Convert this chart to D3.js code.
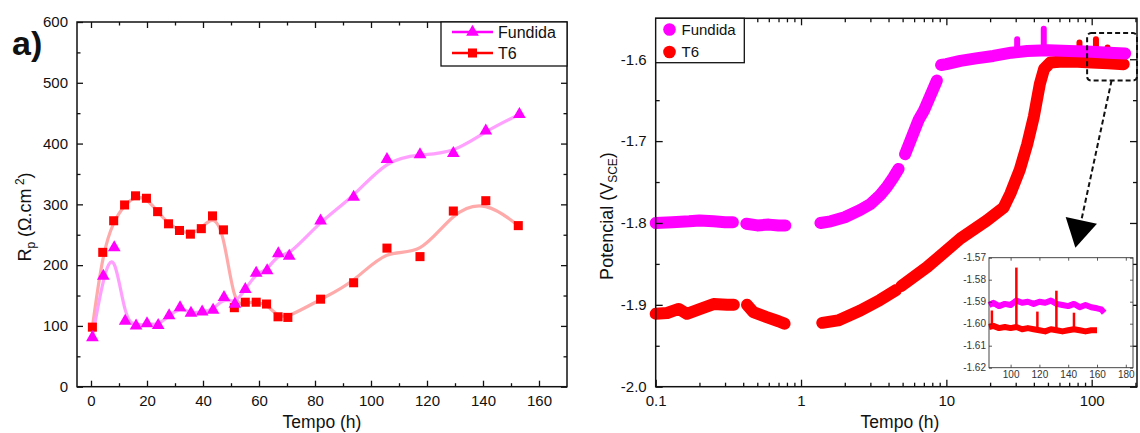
<!DOCTYPE html>
<html>
<head>
<meta charset="utf-8">
<script src="https://cdn.jsdelivr.net/npm/d3@7"></script>
<style>
  body { margin: 0; background: #fff; }
  svg { display: block; font-family: 'Liberation Sans', Arial, sans-serif; }
</style>
</head>
<body>
<div id="chart-container"></div>
<script>
// --- panel a): Rp vs tempo ---
const seriesNames = ['Fundida', 'T6'];
const seriesColors = ['#ff00ff', '#ff0000'];
const curveColors = ['#ffa0ff', '#ffaaaa'];

const rpTimeFundida = [0.5, 4.4, 8.3, 12.2, 16.1, 20, 24, 27.9, 31.8, 35.7, 39.7, 43.6, 47.5, 51.4, 55.1, 59, 62.9, 66.9, 70.8, 82, 93.8, 105.7, 117.5, 129.4, 141, 153];
const rpFundida = [81, 182, 229, 108, 100, 104, 101, 117, 130, 121, 123, 126, 147, 136, 160, 187, 191, 219, 215, 273, 312, 374, 382, 384, 421, 448];
const rpTimeT6 = [0.5, 4.2, 8.1, 12, 15.9, 19.8, 23.8, 27.7, 31.6, 35.5, 39.4, 43.4, 47.3, 51.2, 55.1, 59, 62.7, 66.8, 70.3, 82, 93.8, 105.7, 117.5, 129.4, 141, 152.6];
const rpT6 = [98, 221, 273, 299, 314, 310, 288, 268, 257, 251, 260, 281, 258, 130, 139, 139, 136, 115, 114, 144, 171, 228, 214, 289, 306, 265];

const rpXTicks = [0, 20, 40, 60, 80, 100, 120, 140, 160];
const rpXMinor = [10, 30, 50, 70, 90, 110, 130, 150];
const rpYTicks = [0, 100, 200, 300, 400, 500, 600];
const rpYMinor = [50, 150, 250, 350, 450, 550];

// --- right panel: potencial vs tempo (null = gap in the record) ---
const ocpTimeFundida = [0.1, 0.13, 0.17, 0.2, 0.25, 0.3, 0.34, null, 0.42, 0.5, 0.6, 0.7, 0.78, null, 1.36, 1.6, 2.0, 2.56, 3.0, 3.5, 3.9, 4.3, 4.69, null, 5.2, 6.45, 7.0, 8.6, null, 9.2, 10, 12.5, 16, 21, 28, 36, 50, 70, 100, 130, 170];
const ocpFundida = [-1.800, -1.799, -1.798, -1.797, -1.798, -1.799, -1.799, null, -1.801, -1.803, -1.802, -1.803, -1.803, null, -1.800, -1.798, -1.793, -1.784, -1.777, -1.766, -1.756, -1.745, -1.734, null, -1.716, -1.674, -1.663, -1.626, null, -1.607, -1.606, -1.602, -1.599, -1.596, -1.592, -1.590, -1.589, -1.590, -1.591, -1.592, -1.593];
const ocpTimeT6 = [0.1, 0.12, 0.144, 0.164, 0.203, 0.25, 0.31, 0.345, null, 0.425, 0.47, 0.58, 0.7, 0.77, null, 1.4, 1.8, 2.56, 3.5, 4.5, null, 4.9, 7.36, 12.5, 19, 24.8, 27.6, 32, 36, 40, 44, 47, 52, 60, 80, 100, 130, 166];
const ocpT6 = [-1.911, -1.910, -1.905, -1.911, -1.905, -1.899, -1.900, -1.900, null, -1.900, -1.909, -1.915, -1.920, -1.923, null, -1.922, -1.919, -1.907, -1.894, -1.882, null, -1.877, -1.854, -1.819, -1.797, -1.781, -1.764, -1.735, -1.704, -1.670, -1.630, -1.612, -1.604, -1.603, -1.603, -1.604, -1.605, -1.606];

const spikeTimeFundida = [30.7, 46.8];
const spikeTopFundida = [-1.572, -1.559];
const spikeBaseFundida = [-1.592, -1.589];
const spikeTimeT6 = [82.4, 107, 128.6];
const spikeTopT6 = [-1.576, -1.572, -1.582];
const spikeBaseT6 = [-1.603, -1.604, -1.605];

const ocpXTicks = [0.1, 1, 10, 100];
const ocpXMinor = [0.2, 0.3, 0.4, 0.5, 0.6, 0.7, 0.8, 0.9, 2, 3, 4, 5, 6, 7, 8, 9, 20, 30, 40, 50, 60, 70, 80, 90, 200];
const ocpYTicks = [-2.0, -1.9, -1.8, -1.7, -1.6];
const ocpYMinor = [-1.95, -1.85, -1.75, -1.65];

// --- inset (zoom of the last part) ---
const insetTimeFundida = [85, 88, 92, 96, 100, 104, 108, 112, 116, 120, 124, 128, 132, 136, 140, 144, 148, 152, 156, 160, 163, 165];
const insetFundida = [-1.5915, -1.5905, -1.5920, -1.5910, -1.5915, -1.5895, -1.5905, -1.5900, -1.5910, -1.5900, -1.5905, -1.5895, -1.5910, -1.5915, -1.5920, -1.5910, -1.5925, -1.5915, -1.5925, -1.5930, -1.5935, -1.5950];
const insetTimeT6 = [85, 88, 92, 96, 100, 104, 108, 112, 116, 120, 124, 128, 132, 136, 140, 144, 148, 152, 156, 160];
const insetT6 = [-1.6015, -1.6010, -1.6020, -1.6015, -1.6020, -1.6015, -1.6025, -1.6020, -1.6025, -1.6030, -1.6035, -1.6025, -1.6030, -1.6035, -1.6030, -1.6025, -1.6030, -1.6035, -1.6030, -1.6030];
const insetSpikeTime = [87, 104, 118.6, 131.8, 144];
const insetSpikeTop = [-1.594, -1.5745, -1.5945, -1.585, -1.595];
const insetXTicks = [100, 120, 140, 160, 180];
const insetYTicks = [-1.62, -1.61, -1.60, -1.59, -1.58, -1.57];

// region marked by the dashed box: [t0, t1, v0, v1]
const zoomRegion = [93, 205, -1.626, -1.568];

const width = 1140;
const height = 433;

const svg = d3.select('#chart-container')
  .append('svg')
  .attr('width', width)
  .attr('height', height);

function drawFrame(g, x, y, o) {
  const [xl, xr] = x.range();
  const [yb, yt] = y.range();

  g.append('g').attr('transform', `translate(0,${yb})`)
    .call(d3.axisBottom(x).tickValues(o.xTicks).tickSize(-o.major).tickPadding(o.pad).tickFormat(o.xFmt));
  g.append('g').attr('transform', `translate(${xl},0)`)
    .call(d3.axisLeft(y).tickValues(o.yTicks).tickSize(-o.major).tickPadding(o.pad).tickFormat(o.yFmt));
  g.append('g').attr('transform', `translate(0,${yt})`)
    .call(d3.axisTop(x).tickValues(o.xTicks).tickSize(-o.major).tickFormat(''));
  g.append('g').attr('transform', `translate(${xr},0)`)
    .call(d3.axisRight(y).tickValues(o.yTicks).tickSize(-o.major).tickFormat(''));

  if (o.xMinor) {
    g.append('g').attr('transform', `translate(0,${yb})`)
      .call(d3.axisBottom(x).tickValues(o.xMinor).tickSize(-o.minor).tickFormat(''));
    g.append('g').attr('transform', `translate(0,${yt})`)
      .call(d3.axisTop(x).tickValues(o.xMinor).tickSize(-o.minor).tickFormat(''));
  }
  if (o.yMinor) {
    g.append('g').attr('transform', `translate(${xl},0)`)
      .call(d3.axisLeft(y).tickValues(o.yMinor).tickSize(-o.minor).tickFormat(''));
    g.append('g').attr('transform', `translate(${xr},0)`)
      .call(d3.axisRight(y).tickValues(o.yMinor).tickSize(-o.minor).tickFormat(''));
  }

  g.selectAll('.domain').remove();
  g.selectAll('.tick line').attr('stroke', o.color).attr('stroke-width', o.tickWidth);
  g.selectAll('.tick text')
    .attr('fill', o.color)
    .style('font-size', o.fontSize + 'px')
    .style('font-family', "'Liberation Sans', Arial, sans-serif");

  g.append('rect')
    .attr('x', xl)
    .attr('y', yt)
    .attr('width', xr - xl)
    .attr('height', yb - yt)
    .attr('fill', 'none')
    .attr('stroke', o.color)
    .attr('stroke-width', o.frameWidth);
}

// ================= left panel =================
const xRp = d3.scaleLinear().domain([-5, 170]).range([77, 567]);
const yRp = d3.scaleLinear().domain([0, 600]).range([386.7, 22]);

const left = svg.append('g');

const rpSeries = [
  { name: seriesNames[0], pts: d3.zip(rpTimeFundida, rpFundida), symbol: d3.symbolTriangle, size: 70 },
  { name: seriesNames[1], pts: d3.zip(rpTimeT6, rpT6), symbol: d3.symbolSquare, size: 82 },
];

const rpLine = d3.line()
  .curve(d3.curveBasis)
  .x((d) => xRp(d[0]))
  .y((d) => yRp(d[1]));

// curves first, markers on top; Fundida drawn last
[1, 0].forEach((i) => {
  left.append('path')
    .attr('d', rpLine(rpSeries[i].pts))
    .attr('fill', 'none')
    .attr('stroke', curveColors[i])
    .attr('stroke-width', 3.2);
});
[1, 0].forEach((i) => {
  const s = rpSeries[i];
  left.selectAll(null)
    .data(s.pts)
    .enter()
    .append('path')
    .attr('d', d3.symbol().type(s.symbol).size(s.size))
    .attr('transform', (d) => `translate(${xRp(d[0])},${yRp(d[1])})`)
    .attr('fill', seriesColors[i]);
});

drawFrame(left, xRp, yRp, {
  xTicks: rpXTicks, xMinor: rpXMinor, yTicks: rpYTicks, yMinor: rpYMinor,
  xFmt: (d) => d, yFmt: (d) => d,
  major: 6, minor: 3.5, pad: 9, color: '#111', tickWidth: 1.3, frameWidth: 1.5, fontSize: 15,
});

// legend a)
const legA = left.append('g');
legA.append('rect')
  .attr('x', 441).attr('y', 22).attr('width', 126).attr('height', 44)
  .attr('fill', '#fff').attr('stroke', '#111').attr('stroke-width', 1.3);
rpSeries.forEach((s, i) => {
  const ly = 32 + i * 21;
  legA.append('line')
    .attr('x1', 452).attr('x2', 493).attr('y1', ly).attr('y2', ly)
    .attr('stroke', seriesColors[i]).attr('stroke-width', 2.5);
  legA.append('path')
    .attr('d', d3.symbol().type(s.symbol).size(s.size))
    .attr('transform', `translate(472.5,${ly})`)
    .attr('fill', seriesColors[i]);
  legA.append('text')
    .attr('x', 498).attr('y', ly).attr('dy', '0.36em')
    .style('font-size', '16px')
    .attr('fill', '#111')
    .text(s.name);
});

left.append('text')
  .attr('x', 12).attr('y', 55)
  .style('font-size', '34px').style('font-weight', 'bold')
  .attr('fill', '#111')
  .text('a)');

const rpTitle = left.append('text')
  .attr('transform', 'translate(31,217) rotate(-90)')
  .attr('text-anchor', 'middle')
  .style('font-size', '18px')
  .attr('fill', '#111');
rpTitle.append('tspan').text('R');
rpTitle.append('tspan').attr('dy', 4).style('font-size', '12px').text('p');
rpTitle.append('tspan').attr('dy', -4).text(' (Ω.cm');
rpTitle.append('tspan').attr('dy', -7).style('font-size', '12px').text(' 2');
rpTitle.append('tspan').attr('dy', 7).text(')');

left.append('text')
  .attr('x', 322).attr('y', 427.5)
  .attr('text-anchor', 'middle')
  .style('font-size', '17.5px')
  .attr('fill', '#111')
  .text('Tempo (h)');

// ================= right panel =================
const xOcp = d3.scaleLog().domain([0.1, 205]).range([655.7, 1137]);
const yOcp = d3.scaleLinear().domain([-2.0, -1.55]).range([386.7, 18.3]);

const right = svg.append('g');

const ocpLine = d3.line()
  .defined((d) => d[0] != null && d[1] != null)
  .x((d) => xOcp(d[0]))
  .y((d) => yOcp(d[1]));

const ocpSeries = [
  { pts: d3.zip(ocpTimeFundida, ocpFundida), spikes: d3.zip(spikeTimeFundida, spikeTopFundida, spikeBaseFundida) },
  { pts: d3.zip(ocpTimeT6, ocpT6), spikes: d3.zip(spikeTimeT6, spikeTopT6, spikeBaseT6) },
];

[1, 0].forEach((i) => {
  const s = ocpSeries[i];
  right.selectAll(null)
    .data(s.spikes)
    .enter()
    .append('line')
    .attr('x1', (d) => xOcp(d[0])).attr('x2', (d) => xOcp(d[0]))
    .attr('y1', (d) => yOcp(d[1]) + 3).attr('y2', (d) => yOcp(d[2]))
    .attr('stroke', seriesColors[i])
    .attr('stroke-width', 6)
    .attr('stroke-linecap', 'round');
  right.append('path')
    .attr('d', ocpLine(s.pts))
    .attr('fill', 'none')
    .attr('stroke', seriesColors[i])
    .attr('stroke-width', 12)
    .attr('stroke-linecap', 'round')
    .attr('stroke-linejoin', 'round');
});

drawFrame(right, xOcp, yOcp, {
  xTicks: ocpXTicks, xMinor: ocpXMinor, yTicks: ocpYTicks, yMinor: ocpYMinor,
  xFmt: (d) => String(d), yFmt: (d) => d.toFixed(1),
  major: 7, minor: 4, pad: 9, color: '#111', tickWidth: 1.3, frameWidth: 1.5, fontSize: 15,
});

// legend right
const legB = right.append('g');
legB.append('rect')
  .attr('x', 655.7).attr('y', 18.3).attr('width', 88.6).attr('height', 44.4)
  .attr('fill', '#fff').attr('stroke', '#111').attr('stroke-width', 1.3);
seriesNames.forEach((name, i) => {
  const ly = 29.5 + i * 22.5;
  legB.append('circle')
    .attr('cx', 669.5).attr('cy', ly).attr('r', 6.3)
    .attr('fill', seriesColors[i]);
  legB.append('text')
    .attr('x', 681.5).attr('y', ly).attr('dy', '0.36em')
    .style('font-size', '15px')
    .attr('fill', '#111')
    .text(name);
});

const ocpTitle = right.append('text')
  .attr('transform', 'translate(612.5,216) rotate(-90)')
  .attr('text-anchor', 'middle')
  .style('font-size', '18px')
  .attr('fill', '#111');
ocpTitle.append('tspan').text('Potencial (V');
ocpTitle.append('tspan').attr('dy', 4).style('font-size', '12px').text('SCE');
ocpTitle.append('tspan').attr('dy', -4).text(')');

right.append('text')
  .attr('x', 900).attr('y', 427.5)
  .attr('text-anchor', 'middle')
  .style('font-size', '17.5px')
  .attr('fill', '#111')
  .text('Tempo (h)');

// dashed box round the zoomed region, and the arrow to the inset
const bx0 = xOcp(zoomRegion[0]);
const bx1 = Math.min(xOcp(zoomRegion[1]), 1138.5);
const by0 = yOcp(zoomRegion[3]);
const by1 = yOcp(zoomRegion[2]);
right.append('rect')
  .attr('x', bx0).attr('y', by0)
  .attr('width', bx1 - bx0).attr('height', by1 - by0)
  .attr('rx', 4)
  .attr('fill', 'none')
  .attr('stroke', '#111')
  .attr('stroke-width', 2)
  .attr('stroke-dasharray', '5,3');

// ================= inset =================
const xIn = d3.scaleLinear().domain([85, 185]).range([989, 1133]);
const yIn = d3.scaleLinear().domain([-1.62, -1.57]).range([367.7, 257.7]);

const inset = svg.append('g');
inset.append('rect')
  .attr('x', 989).attr('y', 257.7).attr('width', 144).attr('height', 110)
  .attr('fill', '#fff');

const arrowStart = [bx0 + (bx1 - bx0) * 0.49, by1];
const arrowTip = [xIn(145), yIn(-1.5655)];
const dx = arrowTip[0] - arrowStart[0];
const dy = arrowTip[1] - arrowStart[1];
const len = Math.hypot(dx, dy);
const ux = dx / len, uy = dy / len;
const headLen = 28, headHalf = 16;
const base = [arrowTip[0] - ux * headLen, arrowTip[1] - uy * headLen];
right.append('line')
  .attr('x1', arrowStart[0]).attr('y1', arrowStart[1])
  .attr('x2', base[0] + ux * 2).attr('y2', base[1] + uy * 2)
  .attr('stroke', '#111')
  .attr('stroke-width', 2)
  .attr('stroke-dasharray', '5,3');
right.append('path')
  .attr('d', `M${arrowTip[0]},${arrowTip[1]}L${base[0] - uy * headHalf},${base[1] + ux * headHalf}L${base[0] + uy * headHalf},${base[1] - ux * headHalf}Z`)
  .attr('fill', '#000');

const inLine = d3.line()
  .x((d) => xIn(d[0]))
  .y((d) => yIn(d[1]));

inset.append('path')
  .attr('d', inLine(d3.zip(insetTimeFundida, insetFundida)))
  .attr('fill', 'none')
  .attr('stroke', seriesColors[0])
  .attr('stroke-width', 6)
  .attr('stroke-linejoin', 'round');
inset.append('path')
  .attr('d', inLine(d3.zip(insetTimeT6, insetT6)))
  .attr('fill', 'none')
  .attr('stroke', seriesColors[1])
  .attr('stroke-width', 6)
  .attr('stroke-linejoin', 'round');
inset.selectAll(null)
  .data(d3.zip(insetSpikeTime, insetSpikeTop))
  .enter()
  .append('line')
  .attr('x1', (d) => xIn(d[0])).attr('x2', (d) => xIn(d[0]))
  .attr('y1', (d) => yIn(d[1])).attr('y2', yIn(-1.602))
  .attr('stroke', seriesColors[1])
  .attr('stroke-width', 2.5);

drawFrame(inset, xIn, yIn, {
  xTicks: insetXTicks, yTicks: insetYTicks,
  xFmt: (d) => d, yFmt: (d) => d.toFixed(2),
  major: 3, minor: 2, pad: 3, color: '#333', tickWidth: 0.8, frameWidth: 0.9, fontSize: 10,
});
</script>
</body>
</html>
